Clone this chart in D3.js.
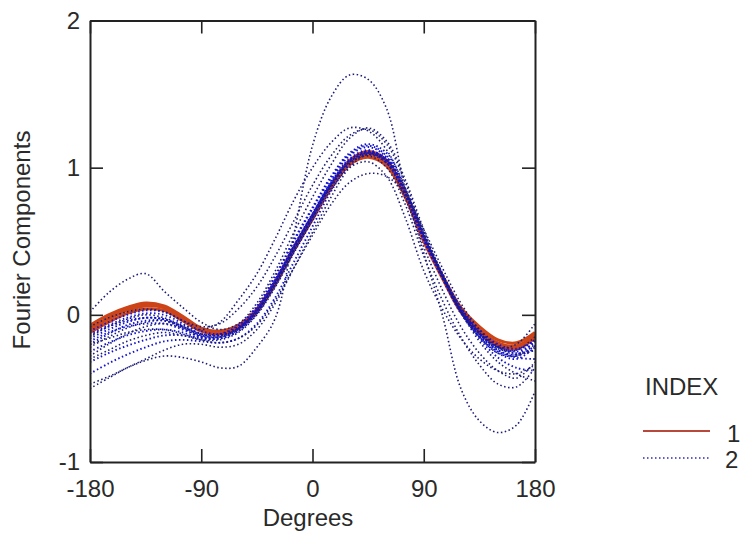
<!DOCTYPE html>
<html>
<head>
<meta charset="UTF-8">
<title>Fourier Components</title>
<script src="https://d3js.org/d3.v7.min.js"></script>
<style>
  body { margin: 0; background: #fff; }
  svg { display: block; font-family: "Liberation Sans", Arial, sans-serif; }
  .axis .domain { stroke: #222; stroke-width: 2; }
  .axis .tick line { stroke: #222; stroke-width: 1.6; }
  .axis text { font-size: 24px; fill: #2a2a2a; font-family: "Liberation Sans", Arial, sans-serif; }
  .label { font-size: 24px; fill: #2a2a2a; }
</style>
</head>
<body>
<svg id="chart" width="749" height="537"></svg>
<script>
// sample angles (degrees)
const degrees = [-180,-165,-150,-135,-120,-105,-90,-75,-60,-45,-30,-15,0,15,30,45,60,75,90,105,120,135,150,165,180];
const xTicks = [-180, -90, 0, 90, 180];
const yTicks = [-1, 0, 1, 2];

// INDEX 1 (solid red)
const index1Curves = [
  [-0.10,-0.03,0.03,0.06,0.05,-0.02,-0.10,-0.12,-0.08,0.03,0.22,0.45,0.66,0.87,1.03,1.09,1.03,0.82,0.51,0.26,0.03,-0.10,-0.19,-0.21,-0.14],
  [-0.07,0.00,0.05,0.08,0.06,-0.01,-0.09,-0.11,-0.07,0.04,0.23,0.46,0.67,0.88,1.05,1.11,1.05,0.83,0.52,0.27,0.05,-0.08,-0.17,-0.19,-0.12],
  [-0.12,-0.05,0.01,0.04,0.03,-0.04,-0.11,-0.13,-0.09,0.02,0.21,0.44,0.65,0.86,1.02,1.07,1.01,0.80,0.50,0.25,0.02,-0.12,-0.21,-0.23,-0.16],
  [-0.09,-0.02,0.04,0.07,0.05,-0.03,-0.10,-0.12,-0.08,0.03,0.22,0.45,0.66,0.87,1.04,1.10,1.04,0.81,0.51,0.26,0.04,-0.11,-0.20,-0.22,-0.13]
];

// INDEX 2 (dotted blue)
const index2Curves = [
  [-0.13,-0.07,-0.02,0.01,0.00,-0.06,-0.13,-0.14,-0.09,0.03,0.23,0.47,0.69,0.90,1.06,1.12,1.05,0.82,0.51,0.25,0.02,-0.13,-0.22,-0.24,-0.17],
  [-0.16,-0.10,-0.05,-0.02,-0.03,-0.08,-0.14,-0.15,-0.10,0.02,0.21,0.44,0.66,0.88,1.04,1.10,1.04,0.82,0.52,0.27,0.04,-0.11,-0.21,-0.25,-0.19],
  [-0.20,-0.13,-0.07,-0.04,-0.04,-0.09,-0.15,-0.16,-0.11,0.01,0.22,0.46,0.68,0.91,1.08,1.14,1.07,0.83,0.51,0.25,0.01,-0.15,-0.25,-0.28,-0.21],
  [-0.11,-0.05,0.00,0.03,0.02,-0.04,-0.11,-0.13,-0.08,0.05,0.26,0.50,0.72,0.93,1.09,1.15,1.08,0.84,0.52,0.26,0.02,-0.14,-0.24,-0.27,-0.18],
  [-0.18,-0.12,-0.08,-0.06,-0.06,-0.10,-0.15,-0.15,-0.09,0.04,0.24,0.47,0.68,0.89,1.05,1.11,1.05,0.83,0.53,0.28,0.05,-0.10,-0.20,-0.23,-0.18],
  [-0.14,-0.08,-0.04,-0.02,-0.03,-0.08,-0.13,-0.13,-0.07,0.06,0.27,0.51,0.73,0.94,1.10,1.16,1.10,0.86,0.54,0.27,0.02,-0.15,-0.26,-0.30,-0.22],
  [-0.25,-0.19,-0.14,-0.11,-0.10,-0.12,-0.16,-0.16,-0.10,0.03,0.23,0.46,0.68,0.89,1.05,1.11,1.05,0.82,0.51,0.26,0.03,-0.12,-0.22,-0.26,-0.24],
  [-0.32,-0.26,-0.21,-0.17,-0.14,-0.14,-0.16,-0.16,-0.11,0.01,0.20,0.43,0.65,0.87,1.03,1.09,1.03,0.81,0.51,0.26,0.03,-0.13,-0.24,-0.29,-0.30],
  [-0.40,-0.33,-0.27,-0.22,-0.18,-0.17,-0.18,-0.19,-0.16,-0.06,0.12,0.36,0.60,0.84,1.02,1.10,1.06,0.85,0.55,0.28,0.03,-0.16,-0.29,-0.36,-0.38],
  [-0.47,-0.42,-0.36,-0.30,-0.24,-0.20,-0.20,-0.22,-0.20,-0.10,0.08,0.32,0.56,0.80,1.00,1.09,1.05,0.85,0.55,0.27,0.02,-0.18,-0.32,-0.40,-0.45],
  [-0.20,-0.16,-0.12,-0.10,-0.10,-0.13,-0.17,-0.19,-0.16,-0.07,0.10,0.32,0.54,0.75,0.90,0.96,0.94,0.82,0.58,0.32,0.08,-0.10,-0.22,-0.27,-0.24],
  [-0.50,-0.43,-0.36,-0.31,-0.28,-0.29,-0.32,-0.36,-0.35,-0.22,-0.02,0.55,1.15,1.48,1.63,1.60,1.40,0.85,0.42,0.00,-0.50,-0.72,-0.80,-0.75,-0.52],
  [0.02,0.15,0.24,0.28,0.16,0.05,-0.05,-0.10,-0.06,0.08,0.30,0.56,0.80,1.02,1.20,1.27,1.18,0.92,0.58,0.28,0.05,-0.12,-0.22,-0.20,-0.06],
  [-0.15,-0.08,-0.03,0.00,-0.02,-0.07,-0.10,-0.05,0.10,0.28,0.52,0.78,1.00,1.17,1.27,1.25,1.12,0.86,0.54,0.26,0.02,-0.15,-0.26,-0.28,-0.20],
  [-0.08,-0.02,0.02,0.04,0.02,-0.04,-0.08,-0.06,0.04,0.19,0.40,0.64,0.88,1.08,1.22,1.26,1.16,0.90,0.56,0.27,0.03,-0.13,-0.23,-0.24,-0.15],
  [-0.22,-0.15,-0.09,-0.05,-0.04,-0.08,-0.13,-0.14,-0.09,0.03,0.22,0.45,0.67,0.88,1.04,1.10,1.03,0.79,0.46,0.17,-0.08,-0.26,-0.38,-0.43,-0.32],
  [-0.28,-0.20,-0.13,-0.08,-0.06,-0.09,-0.14,-0.15,-0.10,0.02,0.21,0.44,0.66,0.87,1.03,1.08,1.00,0.75,0.40,0.10,-0.15,-0.34,-0.47,-0.49,-0.36],
  [-0.30,-0.24,-0.18,-0.14,-0.12,-0.14,-0.17,-0.17,-0.12,0.00,0.19,0.42,0.64,0.85,1.00,1.04,0.94,0.66,0.30,0.04,-0.16,-0.30,-0.38,-0.40,-0.34]
];

const svg = d3.select("#chart");
const plotL = 90, plotR = 535, plotT = 20.5, plotB = 462;

const x = d3.scaleLinear().domain([-180, 180]).range([plotL, plotR]);
const y = d3.scaleLinear().domain([-1, 2]).range([plotB, plotT]);

const line = d3.line()
  .x((d, i) => x(degrees[i]))
  .y(d => y(d))
  .curve(d3.curveCatmullRom.alpha(0.5));

// plain hyphen minus like the original
const fmt = d => String(d);

const plot = svg.append("g");
plot.append("clipPath").attr("id", "clip")
  .append("rect").attr("x", plotL).attr("y", plotT)
  .attr("width", plotR - plotL).attr("height", plotB - plotT);

const curves = plot.append("g").attr("clip-path", "url(#clip)");

// red first, blue dotted over it
curves.selectAll(".c1").data(index1Curves).enter().append("path")
  .attr("class", "c1")
  .attr("d", line)
  .attr("fill", "none")
  .attr("stroke", "#cc4418")
  .attr("stroke-width", 3);

curves.selectAll(".c2").data(index2Curves).enter().append("path")
  .attr("class", "c2")
  .attr("d", line)
  .attr("fill", "none")
  .attr("stroke", (d, i) => i >= 9 ? "#1c1c78" : "#1212d2")
  .attr("stroke-width", (d, i) => i >= 9 ? 1.6 : 1.9)
  .attr("stroke-dasharray", "1.5,2.5");

// axes: ticks pointing inward on all four sides
svg.append("g").attr("class", "axis")
  .attr("transform", `translate(0,${plotB})`)
  .call(d3.axisBottom(x).tickValues(xTicks).tickSize(-13).tickSizeOuter(0).tickPadding(18).tickFormat(fmt));

svg.append("g").attr("class", "axis")
  .attr("transform", `translate(0,${plotT})`)
  .call(d3.axisTop(x).tickValues(xTicks).tickSize(-13).tickSizeOuter(0).tickFormat(""));

svg.append("g").attr("class", "axis")
  .attr("transform", `translate(${plotL},0)`)
  .call(d3.axisLeft(y).tickValues(yTicks).tickSize(-13).tickSizeOuter(0).tickPadding(10).tickFormat(fmt));

svg.append("g").attr("class", "axis")
  .attr("transform", `translate(${plotR},0)`)
  .call(d3.axisRight(y).tickValues(yTicks).tickSize(-13).tickSizeOuter(0).tickFormat(""));

// axis titles
svg.append("text").attr("class", "label")
  .attr("x", 308).attr("y", 526)
  .attr("text-anchor", "middle")
  .text("Degrees");

svg.append("text").attr("class", "label")
  .attr("transform", "translate(30,240) rotate(-90)")
  .attr("text-anchor", "middle")
  .text("Fourier Components");

// legend
const legend = svg.append("g");
legend.append("text").attr("class", "label")
  .attr("x", 645).attr("y", 395).text("INDEX");

legend.append("line")
  .attr("x1", 643).attr("x2", 710).attr("y1", 431).attr("y2", 431)
  .attr("stroke", "#b8483c").attr("stroke-width", 2.2);
legend.append("text").attr("class", "label")
  .attr("x", 727).attr("y", 442).text("1");

legend.append("line")
  .attr("x1", 643).attr("x2", 710).attr("y1", 458).attr("y2", 458)
  .attr("stroke", "#2a2ac0").attr("stroke-width", 1.6)
  .attr("stroke-dasharray", "1.5,2.5");
legend.append("text").attr("class", "label")
  .attr("x", 725).attr("y", 468).text("2");
</script>
</body>
</html>
